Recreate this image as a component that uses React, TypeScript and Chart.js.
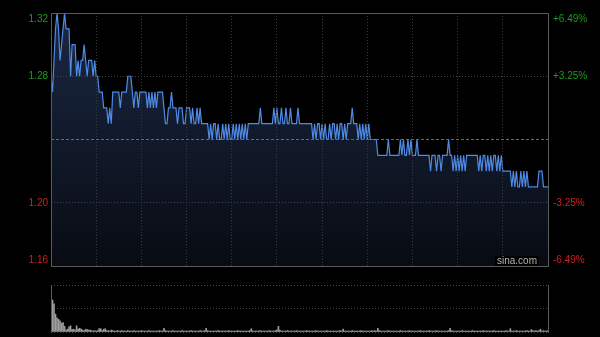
import React, { useEffect, useRef } from "react";
import { Chart, registerables } from "chart.js";

Chart.register(...registerables);

// Intraday minute prices (HKD), one per minute of the session
const prices = [
  1.28, 1.27, 1.29, 1.31, 1.32, 1.31, 1.29, 1.30, 1.31, 1.32,
  1.31, 1.31, 1.31, 1.28, 1.30, 1.30, 1.30, 1.28, 1.29, 1.28,
  1.29, 1.29, 1.30, 1.29, 1.28, 1.29, 1.29, 1.29, 1.28, 1.29,
  1.28, 1.28, 1.27, 1.27, 1.27, 1.26, 1.26, 1.26, 1.25, 1.26,
  1.25, 1.27, 1.27, 1.27, 1.27, 1.27, 1.26, 1.27, 1.27, 1.27,
  1.27, 1.28, 1.28, 1.28, 1.27, 1.26, 1.27, 1.27, 1.26, 1.27,
  1.27, 1.27, 1.27, 1.27, 1.26, 1.27, 1.26, 1.27, 1.26, 1.27,
  1.26, 1.27, 1.27, 1.27, 1.27, 1.26, 1.25, 1.25, 1.26, 1.26,
  1.27, 1.26, 1.26, 1.26, 1.25, 1.26, 1.26, 1.26, 1.25, 1.25,
  1.26, 1.26, 1.26, 1.25, 1.26, 1.25, 1.25, 1.26, 1.25, 1.26,
  1.25, 1.25, 1.25, 1.25, 1.25, 1.24, 1.25, 1.24, 1.25, 1.25,
  1.24, 1.25, 1.24, 1.24, 1.25, 1.24, 1.25, 1.24, 1.25, 1.24,
  1.24, 1.25, 1.24, 1.25, 1.24, 1.25, 1.24, 1.25, 1.24, 1.25,
  1.24, 1.25, 1.25, 1.25, 1.25, 1.25, 1.25, 1.25, 1.25, 1.26,
  1.25, 1.25, 1.25, 1.25, 1.25, 1.25, 1.25, 1.25, 1.26, 1.25,
  1.26, 1.25, 1.25, 1.26, 1.25, 1.25, 1.26, 1.25, 1.25, 1.26,
  1.25, 1.25, 1.25, 1.25, 1.26, 1.25, 1.25, 1.25, 1.25, 1.25,
  1.25, 1.25, 1.25, 1.25, 1.24, 1.25, 1.24, 1.25, 1.25, 1.24,
  1.25, 1.24, 1.25, 1.24, 1.24, 1.25, 1.24, 1.25, 1.25, 1.24,
  1.25, 1.24, 1.25, 1.25, 1.24, 1.25, 1.24, 1.25, 1.25, 1.25,
  1.26, 1.25, 1.25, 1.25, 1.24, 1.25, 1.24, 1.25, 1.24, 1.25,
  1.24, 1.25, 1.24, 1.24, 1.24, 1.24, 1.24, 1.23, 1.23, 1.23,
  1.23, 1.23, 1.23, 1.23, 1.24, 1.23, 1.23, 1.23, 1.23, 1.23,
  1.23, 1.23, 1.24, 1.23, 1.24, 1.23, 1.23, 1.24, 1.23, 1.24,
  1.23, 1.23, 1.23, 1.24, 1.23, 1.23, 1.23, 1.23, 1.23, 1.23,
  1.23, 1.23, 1.22, 1.23, 1.23, 1.23, 1.22, 1.23, 1.23, 1.22,
  1.23, 1.23, 1.23, 1.23, 1.24, 1.23, 1.23, 1.22, 1.23, 1.22,
  1.23, 1.22, 1.23, 1.22, 1.23, 1.22, 1.23, 1.23, 1.23, 1.23,
  1.23, 1.23, 1.23, 1.23, 1.22, 1.23, 1.22, 1.23, 1.23, 1.22,
  1.23, 1.22, 1.23, 1.22, 1.23, 1.23, 1.22, 1.23, 1.22, 1.23,
  1.22, 1.22, 1.22, 1.22, 1.22, 1.22, 1.21, 1.22, 1.21, 1.22,
  1.21, 1.21, 1.22, 1.21, 1.22, 1.21, 1.22, 1.21, 1.21, 1.21,
  1.21, 1.21, 1.21, 1.21, 1.22, 1.22, 1.22, 1.21, 1.21, 1.21,
  1.21,
];

// Minute volumes (relative units, first minute = 100)
const volumes = [
  100, 68, 60, 38, 30, 27, 24, 19, 20, 12,
  4, 6, 11, 13, 5, 6, 4, 13, 6, 8,
  6, 4, 3, 6, 5, 4, 4, 3, 2, 3,
  2, 3, 7, 7, 3, 6, 7, 3, 3, 2,
  4, 3, 2, 2, 3, 2, 2, 3, 2, 2,
  2, 3, 2, 2, 2, 3, 2, 2, 2, 2,
  3, 2, 2, 2, 2, 3, 2, 2, 2, 2,
  2, 2, 3, 2, 2, 8, 3, 2, 2, 2,
  2, 3, 2, 2, 2, 2, 2, 3, 2, 2,
  2, 2, 2, 3, 2, 2, 2, 2, 2, 3,
  2, 2, 3, 8, 3, 2, 2, 2, 2, 2,
  2, 3, 2, 2, 2, 2, 2, 2, 3, 2,
  2, 2, 2, 2, 3, 2, 2, 2, 2, 2,
  2, 2, 3, 7, 2, 2, 2, 2, 2, 3,
  2, 2, 2, 2, 2, 3, 2, 2, 2, 3,
  4, 12, 4, 2, 2, 2, 2, 3, 2, 2,
  2, 2, 2, 3, 2, 2, 2, 2, 2, 2,
  3, 2, 2, 2, 2, 2, 3, 2, 2, 2,
  2, 2, 2, 3, 2, 2, 2, 2, 2, 2,
  2, 2, 3, 2, 6, 2, 2, 2, 2, 2,
  3, 2, 2, 2, 2, 2, 3, 2, 2, 2,
  2, 2, 2, 3, 2, 3, 2, 8, 3, 2,
  2, 2, 2, 2, 3, 2, 2, 2, 2, 2,
  2, 2, 3, 2, 2, 2, 2, 2, 3, 2,
  2, 2, 2, 2, 2, 3, 2, 2, 2, 2,
  2, 3, 2, 2, 2, 2, 3, 2, 2, 2,
  2, 2, 2, 2, 3, 8, 3, 2, 2, 2,
  2, 2, 2, 3, 2, 2, 2, 2, 2, 2,
  3, 2, 2, 2, 2, 2, 2, 3, 2, 2,
  2, 2, 2, 2, 3, 2, 2, 2, 2, 2,
  2, 2, 3, 2, 2, 7, 2, 2, 2, 3,
  2, 2, 2, 2, 2, 2, 3, 2, 2, 5,
  3, 2, 3, 2, 3, 6, 2, 3, 2, 2,
  3,
];

const prevClose = 1.24;
const priceMin = 1.16;
const priceMax = 1.32;
const priceGridValues = [1.16, 1.2, 1.24, 1.28, 1.32];
const leftTickValues = [1.32, 1.28, 1.2, 1.16];
const leftTickLabels = ["1.32", "1.28", "1.20", "1.16"];
const rightTickLabels = ["+6.49%", "+3.25%", "-3.25%", "-6.49%"];
const sessionLength = 330;
const timeGridMinutes = [0, 30, 60, 90, 120, 150, 180, 210, 240, 270, 300, 330];
const volumeMax = 100;
const volumeGridValues = [0, 50, 100];

const FONT = '"Liberation Sans", Arial, sans-serif';
const GREEN = "#1a9e1a";
const RED = "#d21e1e";

const priceDecor = {
  id: "priceDecor",
  afterDraw(chart: any) {
    const { ctx, chartArea } = chart;
    const { left, right, top, bottom } = chartArea;
    const y = chart.scales.y;
    ctx.save();
    // watermark
    ctx.font = "10px " + FONT;
    ctx.textBaseline = "middle";
    ctx.textAlign = "right";
    const tw = ctx.measureText("sina.com").width;
    ctx.fillStyle = "#000";
    ctx.fillRect(right - 11 - tw - 2, bottom - 10, tw + 4, 10);
    ctx.fillStyle = "#b4b4b4";
    ctx.fillText("sina.com", right - 11, bottom - 5);
    // frame
    ctx.setLineDash([]);
    ctx.strokeStyle = "#5a5a5a";
    ctx.lineWidth = 1;
    ctx.strokeRect(left + 0.5, top + 0.5, right - left, bottom - top);
    // axis labels
    ctx.font = "10px " + FONT;
    leftTickValues.forEach((v, i) => {
      let py = y.getPixelForValue(v);
      py = Math.min(Math.max(py, top + 6.5), bottom - 5.5);
      ctx.fillStyle = v > prevClose ? GREEN : RED;
      ctx.textAlign = "right";
      ctx.fillText(leftTickLabels[i], left - 3, py);
      ctx.textAlign = "left";
      ctx.fillText(rightTickLabels[i], right + 5, py);
    });
    ctx.restore();
  },
};

const volumeDecor = {
  id: "volumeDecor",
  afterDraw(chart: any) {
    const { ctx, chartArea } = chart;
    const { left, right, top, bottom } = chartArea;
    ctx.save();
    ctx.strokeStyle = "#5a5a5a";
    ctx.lineWidth = 1;
    ctx.beginPath();
    ctx.moveTo(left + 0.5, top);
    ctx.lineTo(left + 0.5, bottom + 1);
    ctx.moveTo(right + 0.5, top);
    ctx.lineTo(right + 0.5, bottom + 1);
    ctx.stroke();
    ctx.restore();
  },
};

export default function App() {
  const priceRef = useRef<HTMLCanvasElement | null>(null);
  const volRef = useRef<HTMLCanvasElement | null>(null);

  useEffect(() => {
    document.body.style.margin = "0";
    document.body.style.background = "#000";
    if (!priceRef.current || !volRef.current) return;

    const priceChart = new Chart(priceRef.current, {
      type: "line",
      data: {
        datasets: [
          {
            data: prices.map((v, i) => ({ x: i, y: v })),
            borderColor: "#4f8ae6",
            borderWidth: 1.2,
            pointRadius: 0,
            tension: 0,
            fill: "start",
            backgroundColor: (c: any) => {
              const area = c.chart.chartArea;
              if (!area) return "rgba(30,45,75,0.8)";
              const g = c.chart.ctx.createLinearGradient(0, area.top, 0, area.bottom);
              g.addColorStop(0, "#1a2843");
              g.addColorStop(1, "#080b12");
              return g;
            },
          },
        ],
      },
      options: {
        animation: false,
        responsive: false,
        maintainAspectRatio: false,
        events: [],
        layout: { padding: { left: 51, right: 52, top: 13, bottom: 14 } },
        plugins: { legend: { display: false }, tooltip: { enabled: false } },
        scales: {
          x: {
            type: "linear",
            min: 0,
            max: sessionLength,
            afterBuildTicks: (s: any) => {
              s.ticks = timeGridMinutes.map((v) => ({ value: v }));
            },
            ticks: { display: false },
            grid: { color: "#3a3a3a", drawTicks: false, lineWidth: 1, z: 1 },
            border: { display: false, dash: [1, 2] },
          },
          y: {
            type: "linear",
            min: priceMin,
            max: priceMax,
            afterBuildTicks: (s: any) => {
              s.ticks = priceGridValues.map((v) => ({ value: v }));
            },
            ticks: { display: false },
            grid: {
              drawTicks: false,
              lineWidth: 1,
              z: 1,
              color: (c: any) =>
                c.tick && Math.abs(c.tick.value - prevClose) < 1e-6 ? "#6a6a6a" : "#444444",
            },
            border: {
              display: false,
              dash: (c: any) =>
                c.tick && Math.abs(c.tick.value - prevClose) < 1e-6 ? [3, 2] : [1, 2],
            },
          },
        },
      },
      plugins: [priceDecor],
    } as any);

    const volChart = new Chart(volRef.current, {
      type: "bar",
      data: {
        datasets: [
          {
            data: volumes.map((v, i) => ({ x: i, y: v })),
            backgroundColor: "#9c9c9c",
            barThickness: 1,
            borderWidth: 0,
          },
        ],
      },
      options: {
        animation: false,
        responsive: false,
        maintainAspectRatio: false,
        events: [],
        layout: { padding: { left: 51, right: 52, top: 5, bottom: 5 } },
        plugins: { legend: { display: false }, tooltip: { enabled: false } },
        scales: {
          x: {
            type: "linear",
            min: 0,
            max: sessionLength,
            offset: false,
            ticks: { display: false },
            grid: { display: false, offset: false, drawTicks: false },
            border: { display: false },
          },
          y: {
            type: "linear",
            min: 0,
            max: volumeMax,
            afterBuildTicks: (s: any) => {
              s.ticks = volumeGridValues.map((v) => ({ value: v }));
            },
            ticks: { display: false },
            grid: { color: "#4a4a4a", drawTicks: false, lineWidth: 1 },
            border: { display: false, dash: [1, 2] },
          },
        },
      },
      plugins: [volumeDecor],
    } as any);

    return () => {
      priceChart.destroy();
      volChart.destroy();
    };
  }, []);

  return (
    <div style={{ position: "relative", width: 600, height: 337, background: "#000", overflow: "hidden" }}>
      <canvas
        ref={priceRef}
        width={600}
        height={280}
        style={{ position: "absolute", left: 0, top: 0, width: 600, height: 280, display: "block" }}
      />
      <canvas
        ref={volRef}
        width={600}
        height={57}
        style={{ position: "absolute", left: 0, top: 280, width: 600, height: 57, display: "block" }}
      />
    </div>
  );
}
